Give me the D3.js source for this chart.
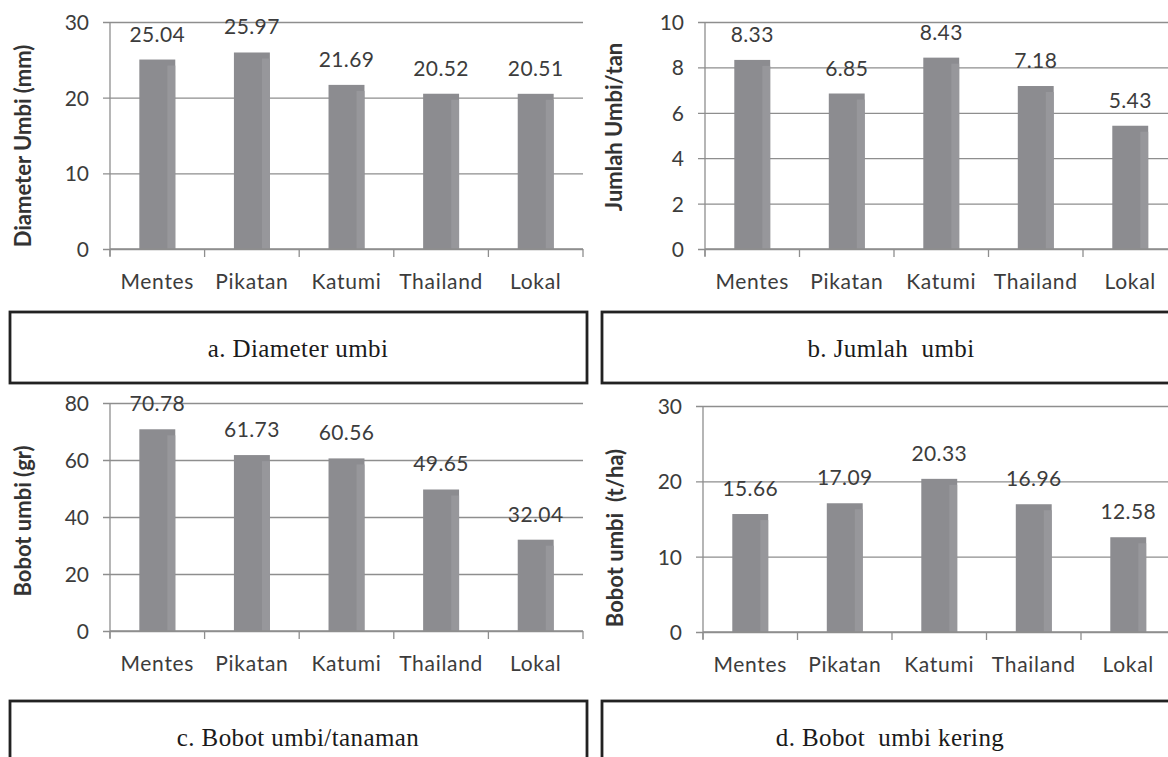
<!DOCTYPE html>
<html>
<head>
<meta charset="utf-8">
<script src="https://cdn.jsdelivr.net/npm/d3@7"></script>
<style>
  html, body { margin: 0; padding: 0; background: #fff; }
  svg { display: block; }
</style>
</head>
<body>
<svg id="chart" width="1168" height="757"></svg>
<script>
// ---------- DATA ----------
const categories = ["Mentes", "Pikatan", "Katumi", "Thailand", "Lokal"];

const diameterValues = [25.04, 25.97, 21.69, 20.52, 20.51];
const jumlahValues = [8.33, 6.85, 8.43, 7.18, 5.43];
const bobotValues = [70.78, 61.73, 60.56, 49.65, 32.04];
const bobotKeringValues = [15.66, 17.09, 20.33, 16.96, 12.58];

const diameterTicks = [0, 10, 20, 30];
const jumlahTicks = [0, 2, 4, 6, 8, 10];
const bobotTicks = [0, 20, 40, 60, 80];
const bobotKeringTicks = [0, 10, 20, 30];

const axisTitles = ["Diameter Umbi (mm)", "Jumlah Umbi/tan", "Bobot umbi (gr)", "Bobot umbi  (t/ha)"];
const captions = ["a. Diameter umbi", "b. Jumlah  umbi", "c. Bobot umbi/tanaman", "d. Bobot  umbi kering"];

// ---------- LAYOUT ----------
const svg = d3.select("#chart");
const FONT = "Lato, 'Open Sans', sans-serif";
const SERIF = "'Liberation Serif', 'Times New Roman', serif";
const TXT = "#3c3c3c";
const GRID = "#8e8e8e";
const BAR = "#8c8c90";
const BAR_HI = "#97979b";

const panels = [
  { values: diameterValues, ticks: diameterTicks, title: axisTitles[0], caption: captions[0],
    x0: 110, top: 22, base: 249, step: 94.6, titleX: 31, titleY: 146,
    box: { x: 10, y: 312, w: 577, h: 71 }, capX: 298 },
  { values: jumlahValues, ticks: jumlahTicks, title: axisTitles[1], caption: captions[1],
    x0: 705, top: 22, base: 249, step: 94.5, titleX: 622, titleY: 127,
    box: { x: 602, y: 312, w: 600, h: 71 }, capX: 891 },
  { values: bobotValues, ticks: bobotTicks, title: axisTitles[2], caption: captions[2],
    x0: 110, top: 403, base: 631, step: 94.6, titleX: 31, titleY: 521,
    box: { x: 10, y: 701, w: 577, h: 90 }, capX: 298 },
  { values: bobotKeringValues, ticks: bobotKeringTicks, title: axisTitles[3], caption: captions[3],
    x0: 703, top: 406, base: 632, step: 94.5, titleX: 623, titleY: 538,
    box: { x: 602, y: 701, w: 600, h: 90 }, capX: 890 }
];

panels.forEach(p => {
  const x1 = p.x0 + p.step * categories.length;
  const x = d3.scaleBand().domain(categories).range([p.x0, x1])
    .paddingInner(0.62).paddingOuter(0.31);
  const y = d3.scaleLinear().domain([0, d3.max(p.ticks)]).range([p.base, p.top]);
  const W = x1 - p.x0;

  const g = svg.append("g");

  // y axis with gridlines
  const yAxis = d3.axisLeft(y).tickValues(p.ticks).tickSizeInner(-W).tickSizeOuter(0).tickPadding(21);
  const ya = g.append("g").attr("transform", `translate(${p.x0},0)`).call(yAxis);
  ya.select(".domain").remove();
  ya.selectAll(".tick line").attr("x1", -7).attr("x2", W)
    .attr("stroke", GRID).attr("stroke-width", 1.3);
  ya.selectAll(".tick text").attr("x", -21).attr("dy", "0.36em")
    .attr("font-family", FONT).attr("font-size", 21).attr("fill", TXT);

  // vertical axis line
  g.append("line").attr("x1", p.x0).attr("x2", p.x0)
    .attr("y1", p.top).attr("y2", p.base + 7)
    .attr("stroke", GRID).attr("stroke-width", 1.3);

  // bars
  const bars = g.selectAll(".bar").data(p.values).enter();
  bars.append("rect")
    .attr("x", (d, i) => x(categories[i]))
    .attr("y", d => y(d))
    .attr("width", x.bandwidth())
    .attr("height", d => p.base - y(d))
    .attr("fill", BAR);
  bars.append("rect")
    .attr("x", (d, i) => x(categories[i]) + x.bandwidth() * 0.78)
    .attr("y", d => y(d) + 6)
    .attr("width", x.bandwidth() * 0.22)
    .attr("height", d => p.base - y(d) - 6)
    .attr("fill", BAR_HI);

  // x axis
  const xAxis = d3.axisBottom(x).tickSize(0).tickPadding(0);
  const xa = g.append("g").attr("transform", `translate(0,${p.base})`).call(xAxis);
  xa.select(".domain").remove();
  xa.selectAll(".tick text").attr("y", 40).attr("dy", 0)
    .attr("font-family", FONT).attr("font-size", 21).attr("letter-spacing", "0.7px")
    .attr("fill", TXT);
  g.append("line").attr("x1", p.x0).attr("x2", x1)
    .attr("y1", p.base).attr("y2", p.base)
    .attr("stroke", GRID).attr("stroke-width", 1.3);
  // category boundary ticks
  const bounds = d3.range(categories.length + 1).map(i => p.x0 + i * x.step());
  g.selectAll(".xt").data(bounds).enter().append("line")
    .attr("x1", d => d).attr("x2", d => d)
    .attr("y1", p.base).attr("y2", p.base + 8)
    .attr("stroke", GRID).attr("stroke-width", 1.3);

  // value labels
  g.selectAll(".val").data(p.values).enter().append("text")
    .attr("x", (d, i) => x(categories[i]) + x.bandwidth() / 2)
    .attr("y", d => y(d) - 18)
    .attr("text-anchor", "middle")
    .attr("font-family", FONT).attr("font-size", 21).attr("letter-spacing", "0.4px")
    .attr("fill", TXT)
    .text(d => d.toFixed(2));

  // axis title
  g.append("text")
    .attr("transform", `translate(${p.titleX},${p.titleY}) rotate(-90)`)
    .attr("text-anchor", "middle")
    .attr("font-family", FONT).attr("font-size", 22).attr("font-weight", "bold")
    .attr("fill", "#333")
    .style("white-space", "pre")
    .text(p.title);

  // caption box
  g.append("rect")
    .attr("x", p.box.x).attr("y", p.box.y)
    .attr("width", p.box.w).attr("height", p.box.h)
    .attr("fill", "none").attr("stroke", "#222").attr("stroke-width", 2.8);
  g.append("text")
    .attr("x", p.capX)
    .attr("y", p.box.y + 45)
    .attr("text-anchor", "middle")
    .attr("font-family", SERIF)
    .attr("font-size", 25).attr("letter-spacing", "0.4px").attr("fill", "#1a1a1a")
    .style("white-space", "pre")
    .text(p.caption);
});
</script>
</body>
</html>
